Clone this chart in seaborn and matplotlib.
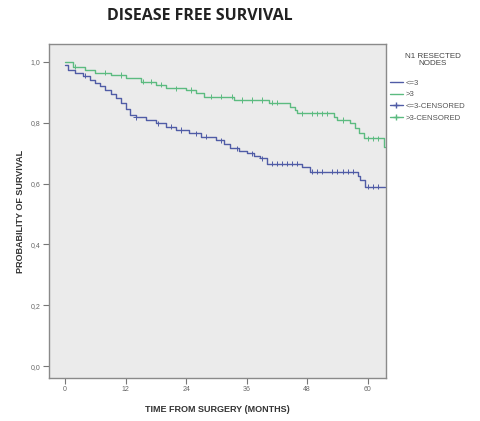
import numpy as np
import pandas as pd
import matplotlib
matplotlib.use("Agg")
import matplotlib.pyplot as plt
from matplotlib.lines import Line2D
import seaborn as sns

# Kaplan-Meier step curves: event times (months) and survival after each step
low_times = [0, 0.5, 2, 3.5, 5, 6, 7, 8, 9, 10, 11, 12, 12.8, 14, 16, 18, 20, 22,
             24.5, 27, 30, 31.5, 32.7, 34.5, 36, 37.5, 38.6, 40, 47, 48.5, 58,
             58.5, 59.4, 63.5]
low_surv = [0.99, 0.975, 0.965, 0.955, 0.942, 0.93, 0.92, 0.908, 0.895, 0.88,
            0.864, 0.845, 0.825, 0.818, 0.809, 0.798, 0.787, 0.776, 0.765, 0.754,
            0.743, 0.73, 0.716, 0.708, 0.70, 0.692, 0.683, 0.666, 0.655, 0.639,
            0.625, 0.612, 0.59, 0.59]

high_times = [0, 1.5, 4, 6, 9, 12, 15, 18, 20, 24, 26, 27.5, 33.5, 40.5, 44.5,
              45.5, 46, 53.3, 54, 56.5, 57.5, 58.3, 59.3, 63.3, 63.5]
high_surv = [1.0, 0.985, 0.975, 0.965, 0.957, 0.948, 0.935, 0.925, 0.913, 0.908,
             0.897, 0.886, 0.875, 0.866, 0.853, 0.842, 0.831, 0.82, 0.809, 0.798,
             0.782, 0.765, 0.749, 0.721, 0.721]

# censoring times (months)
low_censor = [4, 14, 18.5, 21, 23, 26, 28, 31, 34, 37, 39, 41, 42, 43, 44, 45,
              46, 49, 50, 51, 53, 54, 55, 56, 57, 60, 61, 62]
high_censor = [2, 8, 11, 15.5, 17, 19, 22, 25, 29, 31, 33, 35, 37, 39, 41, 42,
               47, 49, 50, 51, 52, 55, 60, 61, 62]

groups = ["<=3", ">3"]
censor_labels = ["<=3-CENSORED", ">3-CENSORED"]
colors = {"<=3": "#505ca6", ">3": "#5cbb80"}

x_ticks = [0, 12, 24, 36, 48, 60]
y_ticks = [0.0, 0.2, 0.4, 0.6, 0.8, 1.0]
y_tick_labels = ["0,0", "0,2", "0,4", "0,6", "0,8", "1,0"]


def step_value(times, surv, t):
    idx = np.searchsorted(times, t, side="right") - 1
    return surv[max(idx, 0)]


curves = pd.concat([
    pd.DataFrame({"month": low_times, "surv": low_surv, "group": "<=3"}),
    pd.DataFrame({"month": high_times, "surv": high_surv, "group": ">3"}),
], ignore_index=True)

censors = pd.concat([
    pd.DataFrame({"month": low_censor,
                  "surv": [step_value(low_times, low_surv, t) for t in low_censor],
                  "group": "<=3"}),
    pd.DataFrame({"month": high_censor,
                  "surv": [step_value(high_times, high_surv, t) for t in high_censor],
                  "group": ">3"}),
], ignore_index=True)

sns.set_theme(style="white")
plt.rcParams["font.family"] = ["Liberation Sans", "DejaVu Sans"]

fig = plt.figure(figsize=(4.8, 4.21), dpi=100)
ax = fig.add_axes([0.102, 0.102, 0.702, 0.7935])
ax.set_facecolor("#ebebeb")

sns.lineplot(data=curves, x="month", y="surv", hue="group", palette=colors,
             drawstyle="steps-post", estimator=None, sort=False, legend=False,
             linewidth=1.0, ax=ax)
sns.scatterplot(data=censors, x="month", y="surv", hue="group", palette=colors,
                marker="+", s=14, linewidth=0.7, legend=False, ax=ax)

ax.set_xlim(-3.2, 63.6)
ax.set_ylim(-0.039, 1.059)
ax.set_xticks(x_ticks)
ax.set_xticklabels([str(v) for v in x_ticks])
ax.set_yticks(y_ticks)
ax.set_yticklabels(y_tick_labels)
ax.tick_params(axis="both", direction="out", length=4, width=0.8,
               color="#777777", labelsize=5, labelcolor="#666666", pad=2)
ax.tick_params(left=True, bottom=True)
for sp in ax.spines.values():
    sp.set_color("#8a8a8a")
    sp.set_linewidth(1.0)

ax.set_xlabel("TIME FROM SURGERY (MONTHS)", fontsize=6.5, fontweight="bold",
              color="#333333", labelpad=8)
ax.set_ylabel("PROBABILITY OF SURVIVAL", fontsize=6.5, fontweight="bold",
              color="#333333", labelpad=4)

fig.text(0.417, 0.962, "DISEASE FREE SURVIVAL", ha="center", va="center",
         fontsize=11.5, fontweight="bold", color="#222222",
         family=["Open Sans", "DejaVu Sans"])

# legend title drawn on its own, entries below it
fig.text(0.902, 0.857, "N1 RESECTED\nNODES", ha="center", va="center",
         fontsize=5.8, color="#444444", linespacing=1.0)

handles = [
    Line2D([], [], color=colors["<=3"], lw=1.0),
    Line2D([], [], color=colors[">3"], lw=1.0),
    Line2D([], [], color=colors["<=3"], lw=1.0, marker="+", ms=4),
    Line2D([], [], color=colors[">3"], lw=1.0, marker="+", ms=4),
]
leg = fig.legend(handles, groups + censor_labels,
                 loc="upper left", bbox_to_anchor=(0.812, 0.812), frameon=False,
                 fontsize=5.6, handlelength=1.7,
                 handletextpad=0.4, labelspacing=0.55, borderaxespad=0,
                 borderpad=0)
for t in leg.get_texts():
    t.set_color("#555555")

fig.savefig("out.png", dpi=100, facecolor="white")
